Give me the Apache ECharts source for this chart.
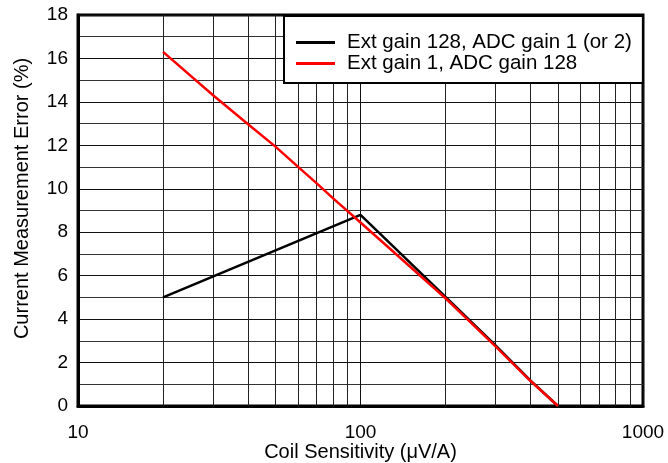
<!DOCTYPE html>
<html>
<head>
<meta charset="utf-8">
<script src="https://cdn.jsdelivr.net/npm/echarts@6/dist/echarts.min.js"></script>
<style>html,body{margin:0;padding:0;background:#fff}#c{width:668px;height:463px}</style>
</head>
<body>
<div id="c"></div>
<script>
const seriesNames = ['Ext gain 128, ADC gain 1 (or 2)', 'Ext gain 1, ADC gain 128'];
const blackX = [20, 100, 200, 300, 400, 500];
const blackY = [5.0, 8.8, 5.02, 2.8, 1.17, 0];
const redX = [20, 30, 40, 50, 60, 70, 80, 100, 200, 300, 400, 500];
const redY = [16.3, 14.32, 12.97, 11.94, 11.02, 10.25, 9.56, 8.45, 4.96, 2.76, 1.15, 0];
const minorX = [20, 30, 40, 50, 60, 70, 80, 90, 200, 300, 400, 500, 600, 700, 800, 900];
const xTickLabels = [10, 100, 1000];

const font = 'Liberation Sans, Arial, sans-serif';
const chart = echarts.init(document.getElementById('c'), null, {renderer: 'canvas'});
chart.setOption({
  animation: false,
  backgroundColor: '#fff',
  grid: {left: 78, right: 25, top: 15, bottom: 57, show: true, borderColor: '#000', borderWidth: 3,
    containLabel: false, outerBoundsMode: 'none'},
  legend: {
    left: 284, top: 16, z: 100, zlevel: 0,
    orient: 'vertical',
    backgroundColor: '#fff',
    borderColor: '#000', borderWidth: 2,
    padding: [16, 11, 9, 12],
    itemGap: 0,
    itemWidth: 39, itemHeight: 3,
    icon: 'rect',
    textStyle: {fontFamily: font, fontSize: 20.5, color: '#000', padding: [0, 0, 0, 7]},
    data: seriesNames
  },
  xAxis: {
    type: 'log', logBase: 10, min: 10, max: 1000,
    name: 'Coil Sensitivity (μV/A)', nameLocation: 'middle', nameGap: 36, nameMoveOverlap: false,
    nameTextStyle: {fontFamily: font, fontSize: 20, color: '#000'},
    axisLine: {show: true, lineStyle: {color: '#000', width: 3}},
    axisTick: {show: false},
    axisLabel: {fontFamily: font, fontSize: 19, color: '#000', margin: 17,
      formatter: v => xTickLabels.includes(Math.round(v)) ? String(Math.round(v)) : ''},
    splitLine: {show: true, lineStyle: {color: '#111', width: 1}}
  },
  yAxis: {
    type: 'value', min: 0, max: 18, interval: 2,
    name: 'Current Measurement Error (%)', nameLocation: 'middle', nameGap: 46, nameMoveOverlap: false,
    nameTextStyle: {fontFamily: font, fontSize: 20, color: '#000', padding: [0, 0, 0, 24]},
    axisLine: {show: true, lineStyle: {color: '#000', width: 3}},
    axisTick: {show: false},
    axisLabel: {fontFamily: font, fontSize: 19, color: '#000', margin: 10},
    splitLine: {show: true, lineStyle: {color: '#111', width: 1}},
    minorTick: {show: false, splitNumber: 2},
    minorSplitLine: {show: true, lineStyle: {color: '#333', width: 1}}
  },
  series: [
    {
      name: 'grid-minor', type: 'line', data: [], silent: true, z: 1,
      markLine: {
        silent: true, symbol: 'none', animation: false, z: 1,
        label: {show: false},
        lineStyle: {color: '#222', width: 1, type: 'solid'},
        emphasis: {disabled: true},
        data: minorX.map(v => ({xAxis: v}))
      }
    },
    {
      name: seriesNames[0], type: 'line', showSymbol: false, symbol: 'none', z: 2,
      color: '#000', lineStyle: {color: '#000', width: 2.5},
      data: blackX.map((x, i) => [x, blackY[i]])
    },
    {
      name: seriesNames[1], type: 'line', showSymbol: false, symbol: 'none', z: 3,
      color: '#ff0000', lineStyle: {color: '#ff0000', width: 2.5},
      data: redX.map((x, i) => [x, redY[i]])
    }
  ]
});
</script>
</body>
</html>
